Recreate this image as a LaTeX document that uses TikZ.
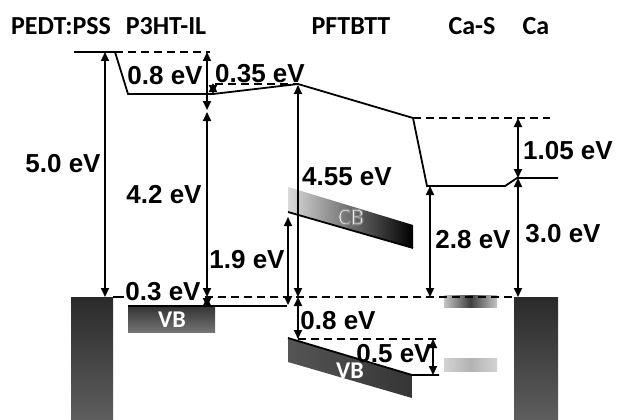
\documentclass[tikz,border=0pt]{standalone}
\usepackage{fontspec}
\setmainfont{Liberation Sans}
\newfontfamily\calib{Carlito}
\usetikzlibrary{arrows.meta}
\definecolor{elecTop}{HTML}{2A2A2A}
\definecolor{elecBot}{HTML}{5E5E5E}
\definecolor{vbTop}{HTML}{333333}
\definecolor{vbBot}{HTML}{747474}
\definecolor{vbL}{HTML}{555555}
\definecolor{vbR}{HTML}{353535}
\definecolor{cbL}{HTML}{DADADA}
\tikzset{
  lvl/.style={line width=1.8pt, line join=miter},
  dsh/.style={line width=1.6pt, dash pattern=on 8pt off 5pt},
  dbl/.style={line width=1.8pt, {Triangle[length=9pt,width=8pt]}-{Triangle[length=9pt,width=8pt]}},
  lab/.style={font=\fontsize{26}{28}\selectfont\bfseries, inner sep=0pt},
  ttl/.style={font=\calib\fontsize{26}{30}\selectfont\bfseries, inner sep=0pt},
  bandtxt/.style={font=\calib\fontsize{24}{26}\selectfont\bfseries, text=white, inner sep=0pt},
}
\newcommand{\outlinetext}[1]{\special{pdf:literal direct 0.55 G 1.1 w 2 Tr}#1\special{pdf:literal direct 0 Tr}}
\begin{document}
\begin{tikzpicture}[x=1pt,y=-1pt]
\useasboundingbox (0,0) rectangle (618,420);
% ---------- coordinates ----------
\coordinate (p0) at (74,52);
\coordinate (p1) at (115,52);
\coordinate (p2) at (128,94);
\coordinate (p3) at (213,94);
\coordinate (p4) at (298,84);
\coordinate (p5) at (413,118);
\coordinate (p6) at (427,186);
\coordinate (p7) at (505,186);
\coordinate (p8) at (517,178);
\coordinate (p9) at (558,178);
% ---------- electrodes ----------
\shade[top color=elecTop, bottom color=elecBot] (71,297) rectangle (113,420);
\shade[top color=elecTop, bottom color=elecBot] (514,297) rectangle (558,420);
\draw[line width=1pt,elecTop] (71,297.5) -- (113,297.5);
\draw[line width=1pt,elecTop] (514,297.5) -- (558,297.5);
% ---------- P3HT-IL VB ----------
\shade[top color=vbTop, bottom color=vbBot] (128,306) rectangle (215,332);
\node[bandtxt] (vb1) at (172,320) {VB};
% ---------- PFTBTT CB ----------
\shade[left color=cbL, right color=black] (288,187) -- (413,225) -- (413,248) -- (288,212) -- cycle;
\coordinate (cbA) at (288,212);
\coordinate (cbB) at (413,248);
\draw[lvl] (cbA) -- (cbB);
\node[font=\calib\fontsize{24}{28}\selectfont, text=white, inner sep=0pt] (cb) at (351,217) {\outlinetext{CB}};
% ---------- PFTBTT VB ----------
\shade[left color=vbL, right color=vbR] (288,338) -- (412,375) -- (412,398) -- (288,362) -- cycle;
\coordinate (vbA) at (288,338);
\coordinate (vbB) at (412,375);
\coordinate (vbC) at (439,375);
\draw[lvl] (vbA) -- (vbB) -- (vbC);
\node[bandtxt] (vb2) at (350,371) {VB};
% ---------- Ca-S bars ----------
\shade[left color=gray!45, right color=gray!45, middle color=black!75] (444,295) rectangle (497,307);
\shade[left color=gray!35, right color=gray!35, middle color=gray!60] (444,358) rectangle (497,371);
% ---------- level line ----------
\draw[lvl] (p0) -- (p1) -- (p2) -- (p3) -- (p4) -- (p5) -- (p6) -- (p7) -- (p8) -- (p9);
\coordinate (h1) at (207,306);
\coordinate (h2) at (287,306);
\draw[lvl] (128,306) -- (h1) -- (h2);
% ---------- dashed lines ----------
\coordinate (d1) at (210,52);
\coordinate (d2) at (215,84);
\coordinate (d3) at (550,118);
\coordinate (f0) at (113,297);
\coordinate (f1) at (124,297);
\coordinate (f2) at (205,297);
\coordinate (f3) at (513,297);
\coordinate (d4) at (298,339);
\coordinate (d5) at (440,339);
\draw[dsh] (p1) -- (d1);
\draw[dsh] (d2) -- (p4);
\draw[dsh] (p5) -- (d3);
\draw[line width=1.6pt] (f0) -- (f1);
\draw[dsh] (f2) -- (f3);
\draw[dsh] (d4) -- (d5);
% ---------- arrows ----------
\coordinate (a1t) at (105,52);  \coordinate (a1b) at (105,297);
\coordinate (a2t) at (207,52);  \coordinate (a2b) at (207,110);
\coordinate (a3t) at (207,112); \coordinate (a3b) at (207,297);
\coordinate (a4b) at (207,307);
\coordinate (a5t) at (213,83);  \coordinate (a5b) at (213,94);
\coordinate (a6t) at (298,85);  \coordinate (a6b) at (298,297);
\coordinate (a7t) at (288,217); \coordinate (a7b) at (288,305);
\coordinate (a8b) at (298,339);
\coordinate (a9t) at (433,339); \coordinate (a9b) at (433,375);
\coordinate (a10t) at (430,186); \coordinate (a10b) at (430,297);
\coordinate (a11t) at (518,118); \coordinate (a11b) at (518,178);
\coordinate (a12b) at (518,297);
\draw[dbl] (a1t) -- (a1b);
\draw[dbl] (a2t) -- (a2b);
\draw[dbl] (a3t) -- (a3b);
\draw[dbl] (a3b) -- (a4b);
\draw[dbl] (a5t) -- (a5b);
\draw[dbl] (a6t) -- (a6b);
\draw[dbl] (a7t) -- (a7b);
\draw[dbl] (a6b) -- (a8b);
\draw[dbl] (a9t) -- (a9b);
\draw[dbl] (a10t) -- (a10b);
\draw[dbl] (a11t) -- (a11b);
\draw[dbl] (a11b) -- (a12b);
% ---------- labels ----------
\node[lab] (l50) at (63,164) {5.0 eV};
\node[lab] (l08a) at (165,76) {0.8 eV};
\node[lab] (l035) at (260,74) {0.35 eV};
\node[lab] (l42) at (164,195) {4.2 eV};
\node[lab] (l19) at (247,260) {1.9 eV};
\node[lab] (l455) at (347,177) {4.55 eV};
\node[lab] (l03) at (163,292) {0.3 eV};
\node[lab] (l08b) at (338,321) {0.8 eV};
\node[lab] (l05) at (394,354) {0.5 eV};
\node[lab] (l28) at (473,240) {2.8 eV};
\node[lab] (l30) at (563,234) {3.0 eV};
\node[lab] (l105) at (568,151) {1.05 eV};
% ---------- titles ----------
\node[ttl] (t1) at (61,26) {PEDT:PSS};
\node[ttl] (t2) at (166,26) {P3HT-IL};
\node[ttl] (t3) at (351,26) {PFTBTT};
\node[ttl] (t4) at (472,26) {Ca-S};
\node[ttl] (t5) at (536,26) {Ca};
\end{tikzpicture}
\end{document}
